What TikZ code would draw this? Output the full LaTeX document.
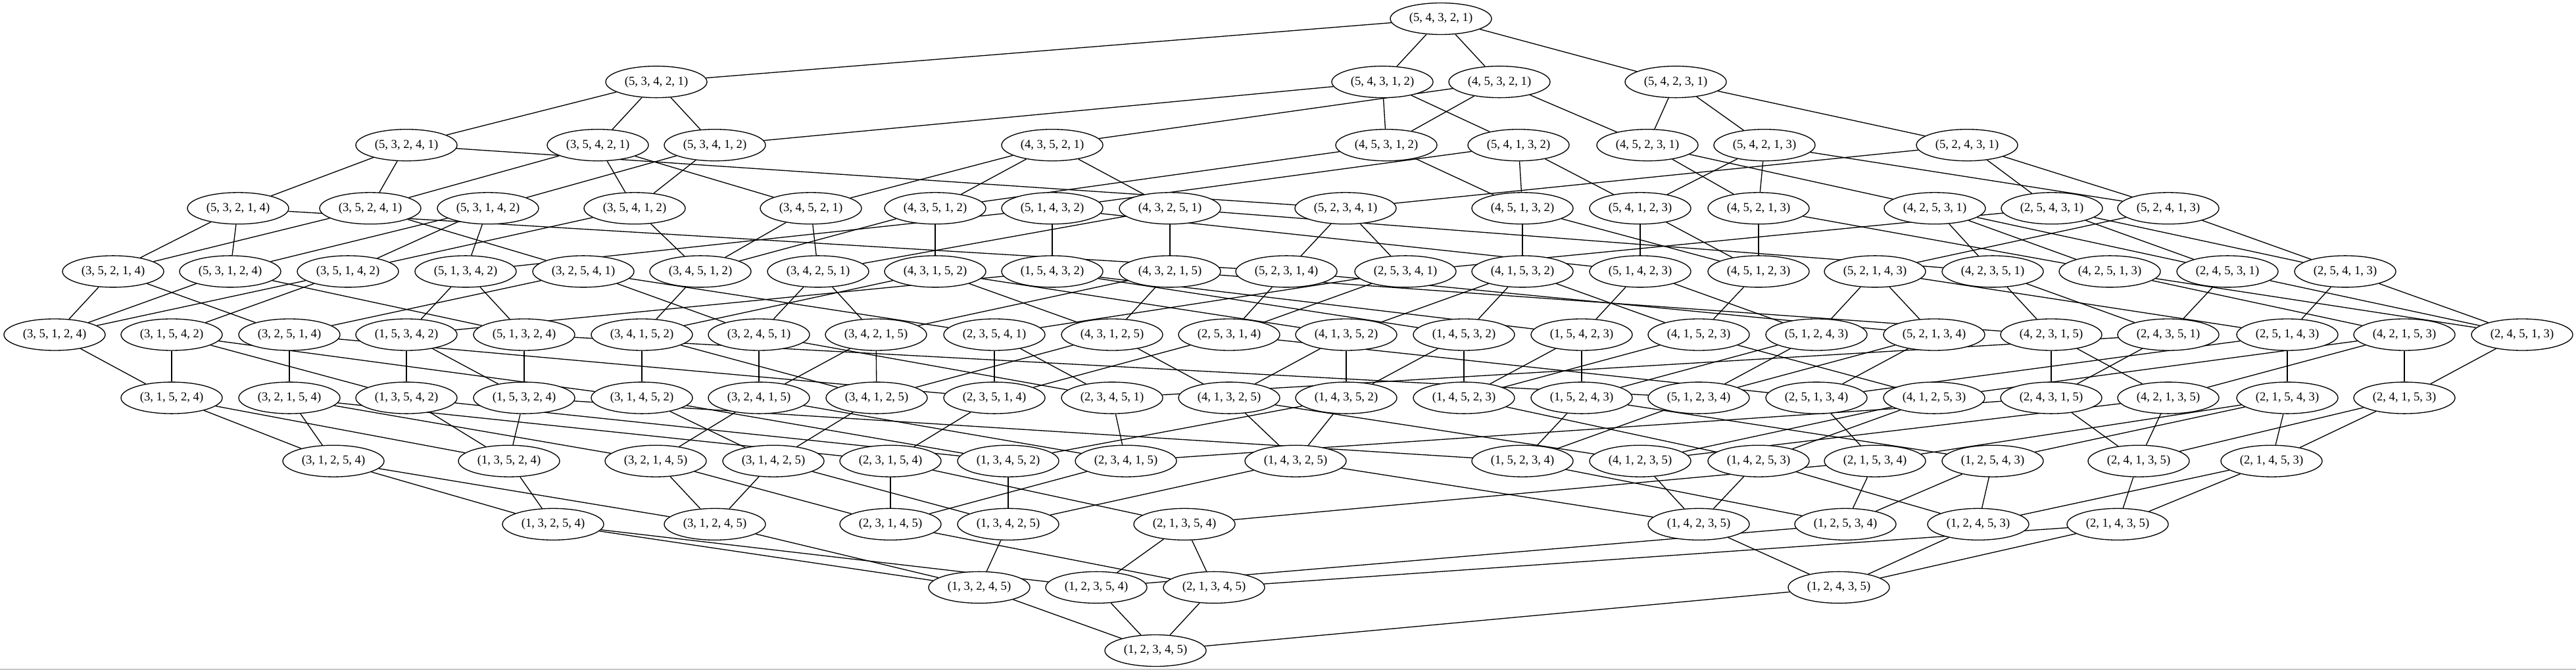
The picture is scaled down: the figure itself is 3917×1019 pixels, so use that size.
\documentclass[tikz,border=0pt]{standalone}
\usepackage{fontspec}
\setmainfont{Liberation Serif}
\usetikzlibrary{shapes.geometric,backgrounds}

% permutacoes: a/b/c/d/e/x/nivel
\def\permlist{
    5/4/3/2/1/2191/0,
    5/3/4/2/1/998/1, 5/4/3/1/2/2102/1, 4/5/3/2/1/2280/1, 5/4/2/3/1/2548/1,
    5/3/2/4/1/618/2, 3/5/4/2/1/909/2, 5/3/4/1/2/1087/2, 4/3/5/2/1/1600/2,
    4/5/3/1/2/2108/2, 5/4/1/3/2/2309/2, 4/5/2/3/1/2505/2, 5/4/2/1/3/2683/2,
    5/2/4/3/1/2991/2,
    5/3/2/1/4/362/3, 3/5/2/4/1/563/3, 5/3/1/4/2/742/3, 3/5/4/1/2/965/3,
    3/4/5/2/1/1233/3, 4/3/5/1/2/1422/3, 5/1/4/3/2/1600/3, 4/3/2/5/1/1779/3,
    5/2/3/4/1/2046/3, 4/5/1/3/2/2315/3, 5/4/1/2/3/2494/3, 4/5/2/1/3/2674/3,
    4/2/5/3/1/2942/3, 2/5/4/3/1/3120/3, 5/2/4/1/3/3297/3,
    3/5/2/1/4/172/4, 5/3/1/2/4/350/4, 3/5/1/4/2/529/4, 5/1/3/4/2/708/4,
    3/2/5/4/1/887/4, 3/4/5/1/2/1065/4, 3/4/2/5/1/1244/4, 4/3/1/5/2/1422/4,
    1/5/4/3/2/1600/4, 4/3/2/1/5/1779/4, 5/2/3/1/4/1956/4, 2/5/3/4/1/2137/4,
    4/1/5/3/2/2315/4, 5/1/4/2/3/2494/4, 4/5/1/2/3/2674/4, 5/2/1/4/3/2851/4,
    4/2/3/5/1/3030/4, 4/2/5/1/3/3208/4, 2/4/5/3/1/3387/4, 2/5/4/1/3/3566/4,
    3/5/1/2/4/83/5, 3/1/5/4/2/261/5, 3/2/5/1/4/440/5, 1/5/3/4/2/618/5,
    5/1/3/2/4/797/5, 3/4/1/5/2/976/5, 3/2/4/5/1/1154/5, 3/4/2/1/5/1332/5,
    2/3/5/4/1/1512/5, 4/3/1/2/5/1691/5, 2/5/3/1/4/1869/5, 4/1/3/5/2/2047/5,
    1/4/5/3/2/2226/5, 1/5/4/2/3/2405/5, 4/1/5/2/3/2583/5, 5/1/2/4/3/2762/5,
    5/2/1/3/4/2941/5, 4/2/3/1/5/3119/5, 2/4/3/5/1/3297/5, 2/5/1/4/3/3478/5,
    4/2/1/5/3/3656/5, 2/4/5/1/3/3835/5,
    3/1/5/2/4/261/6, 3/2/1/5/4/440/6, 1/3/5/4/2/618/6, 1/5/3/2/4/797/6,
    3/1/4/5/2/976/6, 3/2/4/1/5/1154/6, 3/4/1/2/5/1333/6, 2/3/5/1/4/1512/6,
    2/3/4/5/1/1691/6, 4/1/3/2/5/1869/6, 1/4/3/5/2/2047/6, 1/4/5/2/3/2226/6,
    1/5/2/4/3/2405/6, 5/1/2/3/4/2583/6, 2/5/1/3/4/2762/6, 4/1/2/5/3/2941/6,
    2/4/3/1/5/3119/6, 4/2/1/3/5/3297/6, 2/1/5/4/3/3478/6, 2/4/1/5/3/3656/6,
    3/1/2/5/4/507/7, 1/3/5/2/4/774/7, 3/2/1/4/5/997/7, 3/1/4/2/5/1176/7,
    2/3/1/5/4/1354/7, 1/3/4/5/2/1533/7, 2/3/4/1/5/1712/7, 1/4/3/2/5/1970/7,
    1/5/2/3/4/2315/7, 4/1/2/3/5/2494/7, 1/4/2/5/3/2674/7, 2/1/5/3/4/2851/7,
    1/2/5/4/3/3030/7, 2/4/1/3/5/3252/7, 2/1/4/5/3/3454/7,
    1/3/2/5/4/841/8, 3/1/2/4/5/1087/8, 2/3/1/4/5/1354/8, 1/3/4/2/5/1533/8,
    2/1/3/5/4/1801/8, 1/4/2/3/5/2583/8, 1/2/5/3/4/2806/8, 1/2/4/5/3/3008/8,
    2/1/4/3/5/3220/8,
    1/3/2/4/5/1489/9, 1/2/3/5/4/1667/9, 2/1/3/4/5/1846/9, 1/2/4/3/5/2796/9,
    1/2/3/4/5/1757/10}

\begin{document}
\begin{tikzpicture}[
    x=0.75pt, y=-0.75pt,
    % Estilos dos nos
    every node/.style={font=\fontsize{14}{16}\selectfont},
    perm/.style={draw, ellipse, fill=white, line width=1pt,
                 minimum width=115.5pt, minimum height=36pt, inner sep=0pt},
    cover/.style={draw, line width=1pt}
]
\useasboundingbox (0,0) rectangle (3917,1019);

% Nos - um por permutacao
\foreach \pa/\pb/\pc/\pd/\pe/\px/\lv in \permlist
    \node[perm] (p\pa\pb\pc\pd\pe) at (\px, {28.5+96.1*\lv}) {(\pa, \pb, \pc, \pd, \pe)};

% Arestas - troca de vizinhos em descida
\begin{pgfonlayer}{background}
\foreach \pa/\pb/\pc/\pd/\pe/\px/\lv in \permlist {
    \ifnum\pa>\pb\relax \draw[cover] (p\pa\pb\pc\pd\pe) -- (p\pb\pa\pc\pd\pe); \fi
    \ifnum\pb>\pc\relax \draw[cover] (p\pa\pb\pc\pd\pe) -- (p\pa\pc\pb\pd\pe); \fi
    \ifnum\pc>\pd\relax \draw[cover] (p\pa\pb\pc\pd\pe) -- (p\pa\pb\pd\pc\pe); \fi
    \ifnum\pd>\pe\relax \draw[cover] (p\pa\pb\pc\pd\pe) -- (p\pa\pb\pc\pe\pd); \fi
}
\end{pgfonlayer}

% Borda inferior
\draw[gray!45, line width=1pt] (0,1018) -- (3917,1018);

\end{tikzpicture}
\end{document}
